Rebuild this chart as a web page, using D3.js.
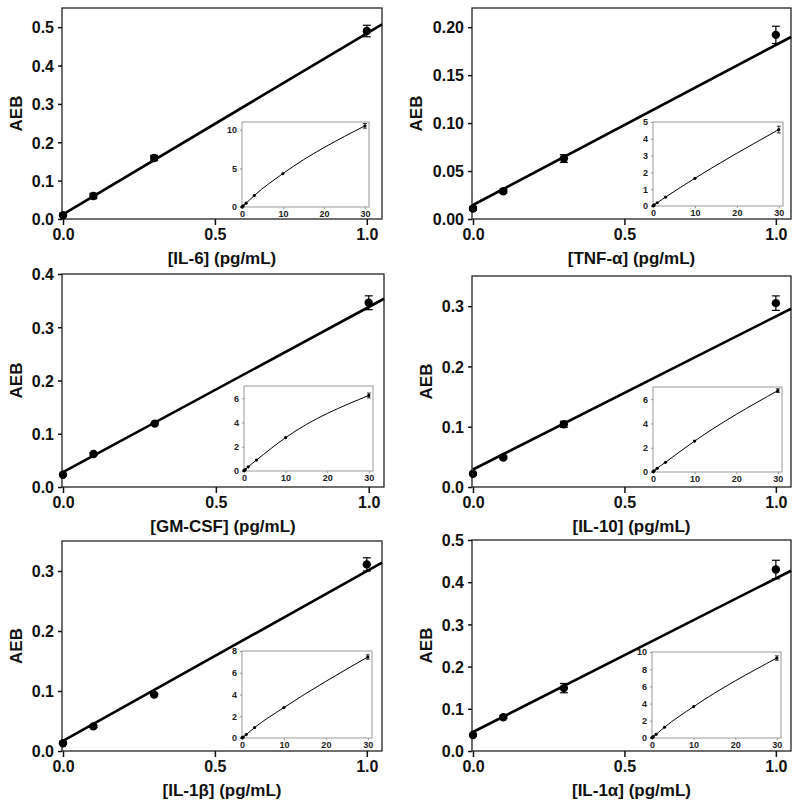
<!DOCTYPE html>
<html>
<head>
<meta charset="utf-8">
<script src="https://cdn.jsdelivr.net/npm/d3@7"></script>
<style>
  body { margin: 0; background: #fff; }
  svg { display: block; font-family: "Liberation Sans", Arial, sans-serif; }
  .main-axis text { font-size: 16px; font-weight: bold; fill: #111; }
  .main-axis path, .main-axis line { stroke: #111; stroke-width: 1.5; }
  .inset-axis text { font-size: 9px; font-weight: bold; fill: #222; }
  .inset-axis path { stroke: none; }
  .inset-axis line { stroke: #999; }
  .axis-title { font-size: 17px; font-weight: bold; fill: #111; }
</style>
</head>
<body>
<script>
// analytes and axis titles
const analytes = ['IL-6', 'TNF-α', 'GM-CSF', 'IL-10', 'IL-1β', 'IL-1α'];
const xTitles = ['[IL-6] (pg/mL)', '[TNF-α] (pg/mL)', '[GM-CSF] (pg/mL)',
                 '[IL-10] (pg/mL)', '[IL-1β] (pg/mL)', '[IL-1α] (pg/mL)'];

// main panels: low concentration range
const conc = [0, 0.1, 0.3, 1.0];
const aeb = [
  [0.010, 0.060, 0.159, 0.490],
  [0.011, 0.029, 0.063, 0.192],
  [0.023, 0.062, 0.119, 0.346],
  [0.022, 0.049, 0.104, 0.305],
  [0.013, 0.041, 0.094, 0.311],
  [0.038, 0.080, 0.149, 0.430]
];
const aebErr = [
  [0.003, 0.007, 0.007, 0.015],
  [0.002, 0.002, 0.004, 0.009],
  [0.002, 0.002, 0.002, 0.013],
  [0.002, 0.002, 0.005, 0.012],
  [0.002, 0.002, 0.002, 0.011],
  [0.003, 0.003, 0.011, 0.022]
];
// linear fit [intercept, slope]
const fits = [
  [0.012, 0.472],
  [0.0146, 0.1668],
  [0.028, 0.310],
  [0.029, 0.254],
  [0.0167, 0.283],
  [0.045, 0.364]
];
const yMax = [0.55, 0.22, 0.4, 0.35, 0.35, 0.5];
const yTicks = [
  [0, 0.1, 0.2, 0.3, 0.4, 0.5],
  [0, 0.05, 0.10, 0.15, 0.20],
  [0, 0.1, 0.2, 0.3, 0.4],
  [0, 0.1, 0.2, 0.3],
  [0, 0.1, 0.2, 0.3],
  [0, 0.1, 0.2, 0.3, 0.4, 0.5]
];
const yFormats = ['.1f', '.2f', '.1f', '.1f', '.1f', '.1f'];
const xTicks = [0, 0.5, 1.0];

// insets: full concentration range
const insetConc = [0, 0.1, 0.3, 1, 3, 10, 30];
const insetAeb = [
  [0.010, 0.060, 0.159, 0.490, 1.49, 4.33, 10.5],
  [0.011, 0.029, 0.063, 0.192, 0.53, 1.65, 4.55],
  [0.023, 0.062, 0.119, 0.346, 0.90, 2.75, 6.22],
  [0.022, 0.049, 0.104, 0.305, 0.80, 2.55, 6.70],
  [0.013, 0.041, 0.094, 0.311, 0.96, 2.80, 7.45],
  [0.038, 0.080, 0.149, 0.430, 1.25, 3.65, 9.30]
];
const insetErr30 = [0.3, 0.2, 0.2, 0.15, 0.2, 0.25];
const insetYMax = [11, 5, 7, 7, 8, 10];
const insetYTicks = [
  [0, 5, 10],
  [0, 1, 2, 3, 4, 5],
  [0, 2, 4, 6],
  [0, 2, 4, 6],
  [0, 2, 4, 6, 8],
  [0, 2, 4, 6, 8, 10]
];
const insetXTicks = [0, 10, 20, 30];

// layout (pixel frames)
const frames = [
  { x0: 62, x1: 382, y0: 8, y1: 219, yl: 40 },
  { x0: 472, x1: 791, y0: 8, y1: 219, yl: 50 },
  { x0: 62, x1: 384, y0: 274, y1: 487, yl: 40 },
  { x0: 472, x1: 791, y0: 276, y1: 487, yl: 40 },
  { x0: 62, x1: 382, y0: 541, y1: 751, yl: 40 },
  { x0: 472, x1: 791, y0: 540, y1: 751, yl: 40 }
];
const insetFrames = [
  { x0: 242, x1: 369, y0: 122, y1: 207 },
  { x0: 653, x1: 783, y0: 122, y1: 206 },
  { x0: 244, x1: 373, y0: 386, y1: 471 },
  { x0: 653, x1: 782, y0: 387, y1: 472 },
  { x0: 242, x1: 372, y0: 651, y1: 738 },
  { x0: 652, x1: 781, y0: 652, y1: 738 }
];

const width = 800;
const height = 811;

const svg = d3.select('body').append('svg')
  .attr('width', width)
  .attr('height', height);

const renderPanel = i => {
  const f = frames[i];
  const g = svg.append('g').attr('class', 'panel');

  const xScale = d3.scaleLinear().domain([0, 1.05]).range([f.x0 + 1, f.x1]);
  const yScale = d3.scaleLinear().domain([0, yMax[i]]).range([f.y1, f.y0]);

  g.append('rect')
    .attr('x', f.x0).attr('y', f.y0)
    .attr('width', f.x1 - f.x0).attr('height', f.y1 - f.y0)
    .attr('fill', 'none').attr('stroke', '#222').attr('stroke-width', 1.3);

  g.append('g')
    .attr('class', 'main-axis')
    .attr('transform', `translate(0, ${f.y1})`)
    .call(d3.axisBottom(xScale).tickValues(xTicks).tickFormat(d3.format('.1f'))
      .tickSize(6).tickSizeOuter(0).tickPadding(4))
    .call(a => a.select('.domain').remove());

  g.append('g')
    .attr('class', 'main-axis')
    .attr('transform', `translate(${f.x0}, 0)`)
    .call(d3.axisLeft(yScale).tickValues(yTicks[i]).tickFormat(d3.format(yFormats[i]))
      .tickSize(4).tickSizeOuter(0).tickPadding(4))
    .call(a => a.select('.domain').remove())
    .call(a => a.selectAll('text').attr('dy', '0.36em'));

  g.append('text')
    .attr('class', 'axis-title')
    .attr('x', (f.x0 + f.x1) / 2)
    .attr('y', f.y1 + 45)
    .attr('text-anchor', 'middle')
    .text(xTitles[i]);

  g.append('text')
    .attr('class', 'axis-title')
    .attr('transform', `translate(${f.x0 - f.yl}, ${(f.y0 + f.y1) / 2}) rotate(-90)`)
    .attr('text-anchor', 'middle')
    .text('AEB');

  // fitted line
  const fit = fits[i];
  const line = d3.line().x(d => xScale(d)).y(d => yScale(fit[0] + fit[1] * d));
  g.append('path')
    .datum([0, 1.05])
    .attr('d', line)
    .attr('fill', 'none')
    .attr('stroke', '#000')
    .attr('stroke-width', 2.6);

  const pts = conc.map((c, k) => ({ x: c, y: aeb[i][k], e: aebErr[i][k] }));

  const bars = g.selectAll('.err').data(pts).enter().append('g').attr('class', 'err');
  bars.append('line')
    .attr('x1', d => xScale(d.x)).attr('x2', d => xScale(d.x))
    .attr('y1', d => yScale(d.y - d.e)).attr('y2', d => yScale(d.y + d.e))
    .attr('stroke', '#000').attr('stroke-width', 1.2);
  [-1, 1].forEach(s => {
    bars.append('line')
      .attr('x1', d => xScale(d.x) - 4).attr('x2', d => xScale(d.x) + 4)
      .attr('y1', d => yScale(d.y + s * d.e)).attr('y2', d => yScale(d.y + s * d.e))
      .attr('stroke', '#000').attr('stroke-width', 1.2);
  });

  g.selectAll('.dot').data(pts).enter().append('circle')
    .attr('class', 'dot')
    .attr('cx', d => xScale(d.x))
    .attr('cy', d => yScale(d.y))
    .attr('r', 4.2)
    .attr('fill', '#000');

  renderInset(i);
};

const renderInset = i => {
  const f = insetFrames[i];
  const g = svg.append('g').attr('class', 'inset');

  const xScale = d3.scaleLinear().domain([0, 31]).range([f.x0, f.x1]);
  const yScale = d3.scaleLinear().domain([0, insetYMax[i]]).range([f.y1, f.y0]);

  g.append('rect')
    .attr('x', f.x0).attr('y', f.y0)
    .attr('width', f.x1 - f.x0).attr('height', f.y1 - f.y0)
    .attr('fill', '#fff').attr('stroke', '#999').attr('stroke-width', 1);

  g.append('g')
    .attr('class', 'inset-axis')
    .attr('transform', `translate(0, ${f.y1})`)
    .call(d3.axisBottom(xScale).tickValues(insetXTicks).tickFormat(d3.format('d'))
      .tickSize(2).tickSizeOuter(0).tickPadding(2));

  g.append('g')
    .attr('class', 'inset-axis')
    .attr('transform', `translate(${f.x0}, 0)`)
    .call(d3.axisLeft(yScale).tickValues(insetYTicks[i]).tickFormat(d3.format('d'))
      .tickSize(2).tickSizeOuter(0).tickPadding(3));

  const pts = insetConc.map((c, k) => ({ x: c, y: insetAeb[i][k] }));

  g.append('path')
    .datum(pts)
    .attr('d', d3.line().x(d => xScale(d.x)).y(d => yScale(d.y)).curve(d3.curveMonotoneX))
    .attr('fill', 'none')
    .attr('stroke', '#000')
    .attr('stroke-width', 1);

  const last = pts[pts.length - 1];
  const e = insetErr30[i];
  const ex = xScale(last.x);
  g.append('line')
    .attr('x1', ex).attr('x2', ex)
    .attr('y1', yScale(last.y - e)).attr('y2', yScale(last.y + e))
    .attr('stroke', '#000').attr('stroke-width', 0.8);
  [-1, 1].forEach(s => {
    g.append('line')
      .attr('x1', ex - 2).attr('x2', ex + 2)
      .attr('y1', yScale(last.y + s * e)).attr('y2', yScale(last.y + s * e))
      .attr('stroke', '#000').attr('stroke-width', 0.8);
  });

  g.selectAll('.idot').data(pts).enter().append('circle')
    .attr('class', 'idot')
    .attr('cx', d => xScale(d.x))
    .attr('cy', d => yScale(d.y))
    .attr('r', 1.6)
    .attr('fill', '#000');
};

analytes.forEach((a, i) => renderPanel(i));
</script>
</body>
</html>
